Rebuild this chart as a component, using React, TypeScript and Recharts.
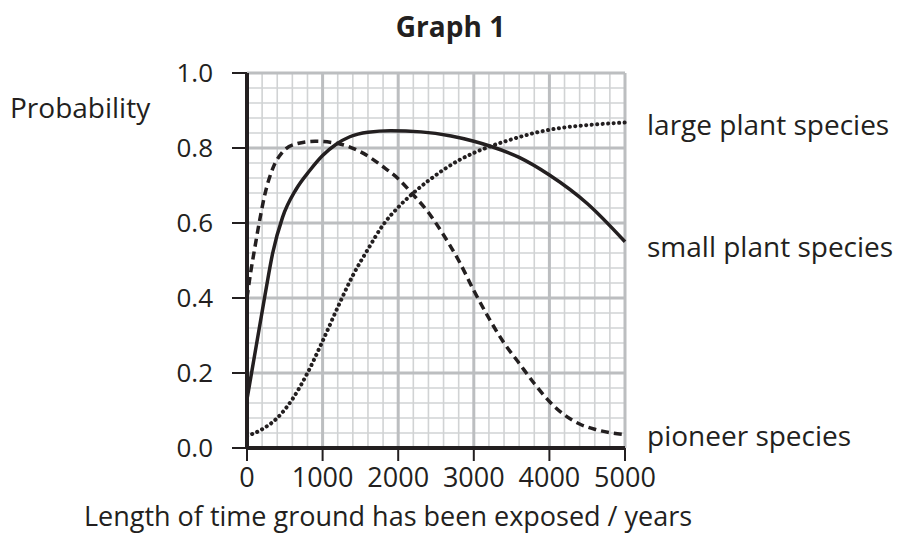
import { LineChart, Line, XAxis, YAxis, CartesianGrid } from 'recharts';

const INK = '#231f20';
const FONT = '"Open Sans", "Noto Sans", sans-serif';

// axis ticks
const X_TICKS = [0, 1000, 2000, 3000, 4000, 5000];
const Y_TICKS = [0, 0.2, 0.4, 0.6, 0.8, 1.0];
// graph-paper grid
const X_MINOR = Array.from({ length: 26 }, (_, i) => i * 200);
const Y_MINOR = Array.from({ length: 26 }, (_, i) => +(i * 0.04).toFixed(2));

// small plant species (solid)
const SMALL_X = [0, 240, 340, 470, 650, 830, 1000, 1180, 1360, 1600, 1900, 2300, 2700, 3000, 3200, 3600, 4000, 4500, 5000];
const SMALL_Y = [0.13, 0.41, 0.52, 0.615, 0.69, 0.74, 0.78, 0.81, 0.83, 0.842, 0.846, 0.843, 0.832, 0.818, 0.806, 0.775, 0.728, 0.652, 0.55];

// pioneer species (dashed)
const PIONEER_X = [0, 50, 100, 170, 235, 340, 470, 650, 900, 1200, 1500, 1800, 2000, 2200, 2400, 2600, 2800, 3000, 3200, 3400, 3600, 3800, 4000, 4200, 4400, 4600, 4800, 5000];
const PIONEER_Y = [0.4, 0.47, 0.53, 0.61, 0.675, 0.745, 0.789, 0.811, 0.818, 0.812, 0.79, 0.75, 0.718, 0.675, 0.628, 0.568, 0.5, 0.42, 0.346, 0.28, 0.226, 0.172, 0.124, 0.088, 0.064, 0.05, 0.041, 0.036];

// large plant species (dotted)
const LARGE_X = [0, 200, 400, 600, 800, 1000, 1200, 1400, 1600, 1800, 2000, 2200, 2400, 2600, 2800, 3000, 3200, 3500, 3800, 4100, 4500, 5000];
const LARGE_Y = [0.032, 0.05, 0.08, 0.13, 0.2, 0.285, 0.375, 0.46, 0.53, 0.595, 0.642, 0.68, 0.713, 0.742, 0.767, 0.787, 0.803, 0.823, 0.84, 0.852, 0.861, 0.868];

const toPoints = (xs: number[], ys: number[]) => xs.map((x, i) => ({ x, y: ys[i] }));

const smallData = toPoints(SMALL_X, SMALL_Y);
const pioneerData = toPoints(PIONEER_X, PIONEER_Y);
const largeData = toPoints(LARGE_X, LARGE_Y);

// write the series name just right of its last point
function endLabel(text: string, count: number, dy = 5) {
  return (props: any) => {
    const { x, y, index } = props;
    if (index !== count - 1) return null;
    return (
      <text x={x + 22} y={y + dy} dominantBaseline="middle" fontSize={28} fontFamily={FONT} fill={INK}>
        {text}
      </text>
    );
  };
}

export default function App() {
  return (
    <div style={{ position: 'absolute', left: 0, top: 0, width: 901, height: 536, background: '#fff', fontFamily: FONT, color: INK, overflow: 'hidden' }}>
      <div style={{ position: 'absolute', left: 0, width: 901, top: 7, textAlign: 'center', fontWeight: 700, fontSize: 28 }}>
        Graph 1
      </div>
      <div style={{ position: 'absolute', left: 10, top: 88, fontSize: 28 }}>Probability</div>
      <div style={{ position: 'absolute', left: 0, width: 776, top: 497, textAlign: 'center', fontSize: 27, whiteSpace: 'nowrap' }}>
        Length of time ground has been exposed / years
      </div>

      <LineChart width={901} height={536} data={smallData} margin={{ top: 73, right: 276, bottom: 34, left: 0 }}>
        <CartesianGrid
          horizontalValues={Y_MINOR}
          verticalValues={X_MINOR}
          stroke="#d1d3d4"
          strokeWidth={1.6}
        />
        <CartesianGrid
          horizontalValues={Y_TICKS}
          verticalValues={X_TICKS}
          stroke="#bcbec0"
          strokeWidth={3}
        />
        <XAxis
          type="number"
          dataKey="x"
          domain={[0, 5000]}
          ticks={X_TICKS}
          interval={0}
          height={54}
          tickSize={13}
          tickMargin={7}
          axisLine={{ stroke: INK, strokeWidth: 4 }}
          tickLine={{ stroke: INK, strokeWidth: 2 }}
          tick={{ fontSize: 27, fill: INK, fontFamily: FONT }}
        />
        <YAxis
          type="number"
          domain={[0, 1]}
          ticks={Y_TICKS}
          interval={0}
          width={247}
          tickSize={15}
          tickMargin={19}
          tickFormatter={(v: number) => v.toFixed(1)}
          axisLine={{ stroke: INK, strokeWidth: 4 }}
          tickLine={{ stroke: INK, strokeWidth: 2 }}
          tick={{ fontSize: 26, fill: INK, fontFamily: FONT }}
        />
        <Line
          data={largeData}
          dataKey="y"
          type="monotone"
          stroke={INK}
          strokeWidth={4}
          strokeDasharray="0.1 5.4"
          strokeLinecap="round"
          dot={false}
          activeDot={false}
          isAnimationActive={false}
          label={endLabel('large plant species', largeData.length, 5)}
        />
        <Line
          data={smallData}
          dataKey="y"
          type="monotone"
          stroke={INK}
          strokeWidth={3.5}
          dot={false}
          activeDot={false}
          isAnimationActive={false}
          label={endLabel('small plant species', smallData.length, 8)}
        />
        <Line
          data={pioneerData}
          dataKey="y"
          type="monotone"
          stroke={INK}
          strokeWidth={3.5}
          strokeDasharray="8 5"
          dot={false}
          activeDot={false}
          isAnimationActive={false}
          label={endLabel('pioneer species', pioneerData.length, 4)}
        />
      </LineChart>
    </div>
  );
}
